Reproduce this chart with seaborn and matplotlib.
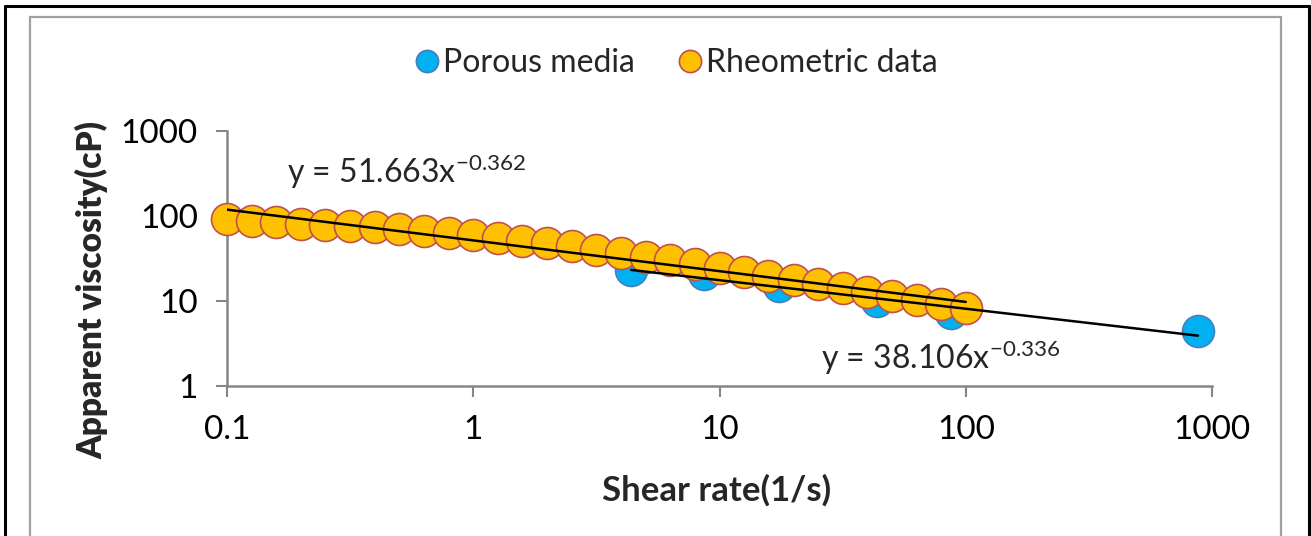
import numpy as np
import pandas as pd
import seaborn as sns
import matplotlib
matplotlib.use("Agg")
import matplotlib.pyplot as plt
from matplotlib.lines import Line2D

# ---------------- data ----------------
shear_rheo = [0.1, 0.126, 0.158, 0.2, 0.251, 0.316, 0.398, 0.501, 0.631, 0.794,
              1.0, 1.26, 1.58, 2.0, 2.51, 3.16, 3.98, 5.01, 6.31, 7.94,
              10.0, 12.6, 15.8, 20.0, 25.1, 31.6, 39.8, 50.1, 63.1, 79.4, 100.0]
visc_rheo = [91.0, 88.0, 85.0, 81.5, 78.5, 76.0, 73.5, 70.5, 67.0, 63.3,
             59.5, 55.6, 51.3, 47.5, 43.8, 40.2, 36.7, 33.2, 30.2, 27.2,
             24.7, 22.0, 19.7, 17.6, 15.7, 14.1, 12.6, 11.3, 10.2, 9.15, 8.3]

shear_porous = [4.38, 8.69, 17.5, 43.8, 87.3, 877.0]
visc_porous = [23.4, 21.0, 15.0, 10.0, 7.25, 4.43]

fit_rheo = (51.663, -0.362)
fit_porous = (38.106, -0.336)

legend_labels = ["Porous media", "Rheometric data"]
x_ticks = [0.1, 1, 10, 100, 1000]
x_ticklabels = ["0.1", "1", "10", "100", "1000"]
y_ticks = [1, 10, 100, 1000]
y_ticklabels = ["1", "10", "100", "1000"]
eq_rheo = r"y = 51.663x$^{\mathregular{-0.362}}$"
eq_porous = r"y = 38.106x$^{\mathregular{-0.336}}$"
x_label = "Shear rate(1/s)"
y_label = "Apparent viscosity(cP)"

# ---------------- style ----------------
sns.set_theme(style="white")
plt.rcParams["font.family"] = ["Lato", "DejaVu Sans"]
plt.rcParams["mathtext.fontset"] = "custom"
plt.rcParams["mathtext.rm"] = "Lato"
plt.rcParams["mathtext.it"] = "Lato"

W, H = 1311, 536
fig = plt.figure(figsize=(W / 100, H / 100), dpi=100)
fig.patch.set_facecolor("white")

def fx(px):
    return px / W

def fy(py):
    return 1 - py / H

ax = fig.add_axes([fx(227), fy(386), fx(1212) - fx(227), fy(131) - fy(386)])
ax.set_xscale("log")
ax.set_yscale("log")

BLUE = "#00B0F0"
BLUE_EDGE = "#4A7EBB"
ORANGE = "#FFC000"
ORANGE_EDGE = "#C0504D"
GRID_GRAY = "#868686"

df_p = pd.DataFrame({"x": shear_porous, "y": visc_porous})
df_r = pd.DataFrame({"x": shear_rheo, "y": visc_rheo})

sns.scatterplot(data=df_p, x="x", y="y", ax=ax, s=530, color=BLUE,
                edgecolor=BLUE_EDGE, linewidth=1.2, zorder=3, legend=False,
                clip_on=False)
sns.scatterplot(data=df_r, x="x", y="y", ax=ax, s=530, color=ORANGE,
                edgecolor=ORANGE_EDGE, linewidth=1.2, zorder=4, legend=False,
                clip_on=False)

# power-law trend lines (straight on log-log axes)
xr = np.array([min(shear_rheo), max(shear_rheo)])
xp = np.array([min(shear_porous), max(shear_porous)])
ax.plot(xr, fit_rheo[0] * xr ** fit_rheo[1], color="black", lw=1.8, zorder=5)
ax.plot(xp, fit_porous[0] * xp ** fit_porous[1], color="black", lw=1.8, zorder=5)

ax.set_xlim(0.1, 1000)
ax.set_ylim(1, 1000)
ax.set_xticks(x_ticks)
ax.set_xticklabels(x_ticklabels)
ax.set_yticks(y_ticks)
ax.set_yticklabels(y_ticklabels)
ax.minorticks_off()
ax.tick_params(axis="both", which="major", direction="out", length=8,
               width=1.5, color=GRID_GRAY, labelsize=24, labelcolor="black",
               bottom=True, left=True, top=False, right=False)
ax.tick_params(axis="x", pad=13)
ax.tick_params(axis="y", pad=13)
for s in ["top", "right"]:
    ax.spines[s].set_visible(False)
for s in ["left", "bottom"]:
    ax.spines[s].set_color(GRID_GRAY)
    ax.spines[s].set_linewidth(1.8)
ax.set_xlabel("")
ax.set_ylabel("")
ax.grid(False)
ax.set_facecolor("white")

# axis titles
fig.text(fx(717), fy(490), x_label, ha="center", va="center",
         fontsize=25, fontweight="bold")
fig.text(fx(92), fy(290), y_label, ha="center", va="center",
         fontsize=24, fontweight="heavy", rotation=90)

# equations
fig.text(fx(287), fy(183), eq_rheo, ha="left", va="baseline", fontsize=23)
fig.text(fx(821), fy(369), eq_porous, ha="left", va="baseline", fontsize=23)

# legend
handles = [
    Line2D([], [], ls="", marker="o", ms=16, mfc=BLUE, mec=BLUE_EDGE, mew=1.2),
    Line2D([], [], ls="", marker="o", ms=16, mfc=ORANGE, mec=ORANGE_EDGE, mew=1.2),
]
fig.legend(handles, legend_labels, loc="center", ncol=2,
           bbox_to_anchor=(fx(676), fy(63)), frameon=False, fontsize=23,
           handletextpad=0.1, columnspacing=1.3, handlelength=0.8)

# frames
fig.add_artist(Line2D([fx(5), fx(5)], [fy(6), -0.1], color="black", lw=2.2,
                      transform=fig.transFigure))
fig.add_artist(Line2D([fx(5), fx(1309)], [fy(6), fy(6)], color="black", lw=2.2,
                      transform=fig.transFigure))
fig.add_artist(Line2D([fx(1309), fx(1309)], [fy(6), -0.1], color="black", lw=2.2,
                      transform=fig.transFigure))
fig.add_artist(Line2D([fx(30), fx(30)], [fy(17), -0.1], color="#A0A0A0", lw=1.6,
                      transform=fig.transFigure))
fig.add_artist(Line2D([fx(30), fx(1281)], [fy(17), fy(17)], color="#A0A0A0", lw=1.6,
                      transform=fig.transFigure))
fig.add_artist(Line2D([fx(1281), fx(1281)], [fy(17), -0.1], color="#A0A0A0", lw=1.6,
                      transform=fig.transFigure))

fig.savefig("out.png", dpi=100, facecolor="white")
